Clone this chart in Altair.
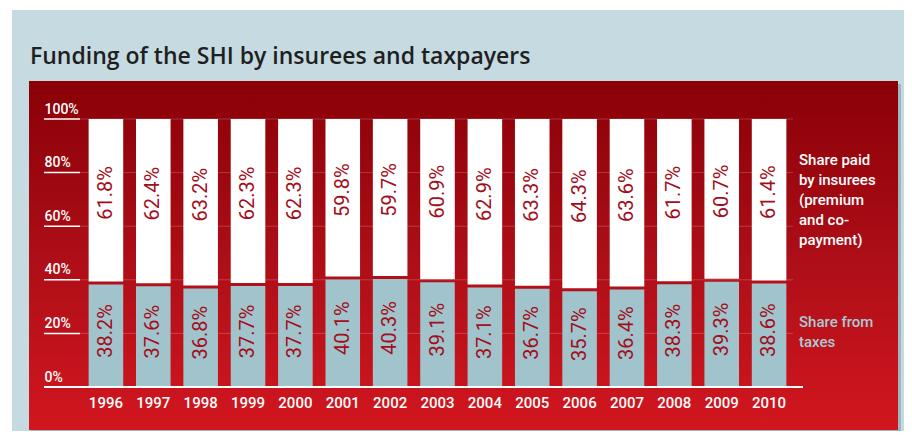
import altair as alt
import pandas as pd

years = [str(y) for y in range(1996, 2011)]
taxes = [38.2, 37.6, 36.8, 37.7, 37.7, 40.1, 40.3, 39.1, 37.1, 36.7, 35.7, 36.4, 38.3, 39.3, 38.6]
insurees = [61.8, 62.4, 63.2, 62.3, 62.3, 59.8, 59.7, 60.9, 62.9, 63.3, 64.3, 63.6, 61.7, 60.7, 61.4]
y_ticks = [0, 20, 40, 60, 80, 100]
title_text = "Funding of the SHI by insurees and taxpayers"
legend_insurees = ["Share paid", "by insurees", "(premium", "and co-", "payment)"]
legend_taxes = ["Share from", "taxes"]

FONT = "Roboto"
W, H = 711, 268

df = pd.DataFrame({"year": years, "taxes": taxes, "insurees": insurees})
df["tax_label"] = [f"{v:.1f}%" for v in taxes]
df["ins_label"] = [f"{v:.1f}%" for v in insurees]
df["top"] = 100

one = pd.DataFrame({"a": [0]})
ticks_df = pd.DataFrame({"v": [t for t in y_ticks if t > 0]})
base_df = pd.DataFrame({"v": [0]})

xenc = alt.X("year:N", title=None,
             scale=alt.Scale(paddingInner=0.27, paddingOuter=0.14),
             axis=alt.Axis(domain=False, ticks=False, labelAngle=0, labelColor="white",
                           labelFont=FONT, labelFontSize=15, labelFontWeight=500,
                           labelPadding=8, labelBaseline="top", zindex=1))
yscale = alt.Scale(domain=[0, 100], nice=False)

outer = alt.Chart(one).mark_rect(fill="#c6dae1").encode(
    x=alt.value(-70), x2=alt.value(835), y=alt.value(-109), y2=alt.value(325))

shadow = alt.Chart(one).mark_rect(fill="#5a6f78", opacity=0.35).encode(
    x=alt.value(-51), x2=alt.value(819), y=alt.value(-35), y2=alt.value(315))

red = alt.Chart(one).mark_rect(
    fill=alt.Gradient(gradient="linear",
                      stops=[alt.GradientStop(color="#8a0007", offset=0),
                             alt.GradientStop(color="#b00f18", offset=0.55),
                             alt.GradientStop(color="#d2161f", offset=1)],
                      x1=0, x2=0, y1=0, y2=1)
).encode(x=alt.value(-53), x2=alt.value(816), y=alt.value(-38), y2=alt.value(311))

title = alt.Chart(one).mark_text(
    text=title_text, font="Open Sans", fontSize=23, color="#1f1f1f", align="left",
    baseline="alphabetic", fontWeight=600
).encode(x=alt.value(-52), y=alt.value(-55))

grid = alt.Chart(ticks_df).mark_rule(color="white", strokeWidth=1, opacity=0.2).encode(
    y=alt.Y("v:Q", scale=yscale), x=alt.value(-2), x2=alt.value(W))

underlines = alt.Chart(ticks_df).mark_rule(color="white", strokeWidth=1.5).encode(
    y=alt.Y("v:Q", scale=yscale), x=alt.value(-38), x2=alt.value(-2))

baseline = alt.Chart(base_df).mark_rule(color="white", strokeWidth=1.8).encode(
    y=alt.Y("v:Q", scale=yscale), x=alt.value(-38), x2=alt.value(721))

blue = alt.Chart(df).mark_bar(color="#a0c3cc").encode(
    x=xenc,
    y=alt.Y("taxes:Q", scale=yscale, title=None,
            axis=alt.Axis(values=y_ticks, format=".0f", labelExpr="datum.label + '%'",
                          domain=False, ticks=False, grid=False, labelColor="white",
                          labelFont=FONT, labelFontSize=14, labelFontWeight=500,
                          labelAlign="left", labelPadding=38, labelBaseline="bottom",
                          labelOffset=-3, zindex=1)),
    y2=alt.value(H))

white = alt.Chart(df).mark_bar(color="white", y2Offset=-3).encode(
    x=xenc,
    y=alt.Y("top:Q", scale=yscale),
    y2="taxes:Q")

tax_text = alt.Chart(df).transform_calculate(mid="datum.taxes / 2").mark_text(
    angle=270, font=FONT, fontSize=20, color="#a30e1a", align="center",
    baseline="middle", dx=5).encode(
    x=xenc, y=alt.Y("mid:Q", scale=yscale), text="tax_label:N")

ins_text = alt.Chart(df).transform_calculate(mid="(datum.taxes + 100) / 2").mark_text(
    angle=270, font=FONT, fontSize=20, color="#a30e1a", align="center",
    baseline="middle", dx=9).encode(
    x=xenc, y=alt.Y("mid:Q", scale=yscale), text="ins_label:N")

leg1 = alt.Chart(one).mark_text(
    font=FONT, fontSize=15, color="white", align="left", baseline="alphabetic",
    lineHeight=20, fontWeight=500).encode(
    x=alt.value(717), y=alt.value(46), text=alt.value(legend_insurees))

leg2 = alt.Chart(one).mark_text(
    font=FONT, fontSize=15, color="#a9cad3", align="left", baseline="alphabetic",
    lineHeight=20, fontWeight=500).encode(
    x=alt.value(717), y=alt.value(208), text=alt.value(legend_taxes))

chart = alt.layer(
    outer, shadow, red, title, grid, blue, white, underlines, baseline,
    tax_text, ins_text, leg1, leg2
).resolve_scale(x="shared", y="shared").properties(
    width=W, height=H,
    autosize=alt.AutoSizeParams(type="none"),
    padding={"left": 74, "top": 111, "right": 111, "bottom": 44},
    background="white"
).configure_view(strokeWidth=0)

chart.save("out.html", embed_options={"renderer": "svg", "actions": False})
